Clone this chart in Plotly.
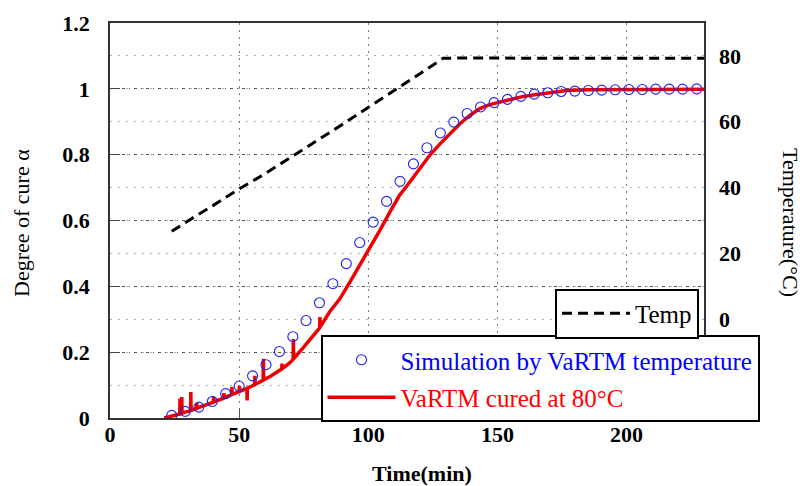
import plotly.graph_objects as go

# ---------------- data ----------------
sim_time = [23.9, 29.1, 34.4, 39.6, 44.8, 50.0, 55.2, 60.4, 65.6, 70.8,
            75.9, 81.1, 86.3, 91.5, 96.7, 101.9, 107.1, 112.3, 117.5, 122.7,
            127.9, 133.1, 138.3, 143.5, 148.7, 153.9, 159.1, 164.3, 169.5, 174.7,
            180.0, 185.2, 190.4, 195.6, 200.9, 206.1, 211.3, 216.5, 221.7, 227.2]
sim_cure = [0.008, 0.020, 0.033, 0.050, 0.074, 0.097, 0.128, 0.162, 0.202, 0.247,
            0.296, 0.350, 0.408, 0.469, 0.533, 0.595, 0.658, 0.719, 0.772, 0.821,
            0.866, 0.899, 0.925, 0.945, 0.958, 0.968, 0.977, 0.984, 0.988, 0.992,
            0.993, 0.995, 0.996, 0.997, 0.998, 0.998, 0.999, 0.999, 0.999, 1.000]

exp_time = [21.0, 24.0, 27.0, 27.1, 27.2, 27.7, 27.8, 27.9, 31.2, 31.3, 31.4,
            33.5, 33.6, 33.7, 35.0, 38.0, 40.0, 40.1, 40.2, 44.0, 44.1, 44.2,
            47.1, 47.2, 47.3, 50.0, 50.1, 50.2, 53.0, 53.1, 53.2, 56.0, 56.1, 56.2,
            59.3, 59.4, 59.5, 62.0, 65.8, 66.5, 66.6, 66.7, 69.7, 70.9, 71.0, 71.1,
            75.0, 78.1, 81.2, 81.3, 81.4, 85.0, 89.0, 92.9, 96.0, 100.6, 104.5,
            108.4, 112.0, 116.1, 120.0, 123.8, 127.7, 131.6, 135.5, 139.3, 143.2,
            147.0, 150.9, 155.0, 160.0, 163.8, 170.0, 176.8, 185.0, 200.0, 215.0, 230.0]
exp_cure = [0.000, 0.005, 0.012, 0.059, 0.013, 0.014, 0.064, 0.015, 0.022, 0.079, 0.023,
            0.029, 0.045, 0.030, 0.034, 0.042, 0.048, 0.065, 0.049, 0.060, 0.076, 0.061,
            0.071, 0.094, 0.072, 0.080, 0.098, 0.081, 0.090, 0.053, 0.091, 0.101, 0.128, 0.102,
            0.115, 0.180, 0.116, 0.126, 0.145, 0.149, 0.165, 0.150, 0.168, 0.178, 0.240, 0.180,
            0.215, 0.246, 0.274, 0.307, 0.277, 0.322, 0.362, 0.413, 0.455, 0.514, 0.570,
            0.626, 0.675, 0.717, 0.760, 0.798, 0.832, 0.862, 0.894, 0.919, 0.940,
            0.952, 0.960, 0.969, 0.977, 0.981, 0.988, 0.995, 0.997, 0.998, 0.999, 0.999]

temp_time = [23.9, 30.0, 40.0, 50.0, 60.0, 70.0, 80.0, 90.0, 100.0, 110.0, 120.0,
             129.0, 140.0, 160.0, 180.0, 200.0, 230.0]
temp_val = [26.7, 29.8, 34.6, 39.6, 44.2, 49.1, 54.2, 59.2, 64.3, 69.3, 74.6,
            79.3, 79.4, 79.3, 79.4, 79.3, 79.3]

x_ticks = [0, 50, 100, 150, 200]
y_ticks = [0, 0.2, 0.4, 0.6, 0.8, 1.0, 1.2]
y_ticktext = ["0", "0.2", "0.4", "0.6", "0.8", "1", "1.2"]
y2_ticks = [0, 20, 40, 60, 80]

name_sim = "Simulation by VaRTM temperature"
name_exp = "VaRTM cured at 80°C"
name_temp = "Temp"

# ---------------- figure ----------------
SERIF = "Liberation Serif"
OFF = 8                      # default page body margin
W, H = 806 - OFF, 486 - OFF
L, R, T, B = 102, 102, 15, 68
PW, PH = W - L - R, H - T - B


def px_x(xp):
    """page pixel x -> paper x"""
    return (xp - OFF - L) / PW


def px_y(yp):
    """page pixel y -> paper y"""
    return (H - B - (yp - OFF)) / PH


fig = go.Figure()

fig.add_trace(go.Scatter(
    x=exp_time, y=exp_cure, mode="lines",
    name=f'<span style="color:#ff0000">{name_exp}</span>',
    line=dict(color="#ee0000", width=3.5), legendrank=2, legendgroup="b",
))
fig.add_trace(go.Scatter(
    x=sim_time, y=sim_cure, mode="markers",
    name=f'<span style="color:#0000ff">{name_sim}</span>',
    marker=dict(symbol="circle-open", size=10, color="#2222ee", line=dict(width=1.1)),
    legendrank=1, legendgroup="a",
))
fig.add_trace(go.Scatter(
    x=temp_time, y=temp_val, mode="lines", name=name_temp, yaxis="y2",
    line=dict(color="black", width=3, dash="10px,6px"), legend="legend2",
))

tickfont = dict(family=SERIF, size=22, color="black", weight="bold")

fig.update_layout(
    width=W, height=H,
    margin=dict(l=L, r=R, t=T, b=B, autoexpand=False),
    paper_bgcolor="white", plot_bgcolor="white",
    font=dict(family=SERIF, color="black"),
    xaxis=dict(
        range=[0, 230], tickvals=x_ticks, ticktext=[str(v) for v in x_ticks],
        showline=True, linecolor="#333333", linewidth=1.5, mirror=True,
        ticks="inside", ticklen=9, tickcolor="#555555",
        showgrid=True, gridcolor="#777777", gridwidth=1, griddash="2px,5px",
        zeroline=False, tickfont=tickfont, ticklabelstandoff=-4,
    ),
    yaxis=dict(
        range=[0, 1.2], tickvals=y_ticks, ticktext=y_ticktext,
        showline=True, linecolor="#333333", linewidth=1.5, mirror=True,
        ticks="inside", ticklen=10, tickcolor="#444444",
        showgrid=True, gridcolor="#555555", gridwidth=1, griddash="3px,4px,1px,4px",
        minor=dict(dtick=0.1, showgrid=True, gridcolor="#b0b0b0", griddash="2px,6px", gridwidth=1),
        zeroline=False, tickfont=tickfont, ticklabelstandoff=14,
    ),
    yaxis2=dict(
        range=[-30, 90], tickvals=y2_ticks, ticktext=[str(v) for v in y2_ticks],
        overlaying="y", side="right", showline=False, showgrid=False, zeroline=False,
        ticks="", tickfont=tickfont, ticklabelstandoff=14,
    ),
    showlegend=True,
    legend=dict(
        x=px_x(320.5), y=px_y(335),
        xanchor="left", yanchor="top",
        bgcolor="white", bordercolor="black", borderwidth=2,
        font=dict(family=SERIF, size=25), itemwidth=68, tracegroupgap=2,
        traceorder="grouped",
    ),
    legend2=dict(
        x=px_x(555), y=px_y(288.5),
        xanchor="left", yanchor="top",
        bgcolor="white", bordercolor="black", borderwidth=2,
        font=dict(family=SERIF, size=25, color="black"), itemwidth=68,
    ),
    annotations=[
        dict(text="Degree of cure α", xref="paper", yref="paper",
             x=px_x(21), y=px_y(223), xanchor="center", yanchor="middle",
             textangle=-90, showarrow=False, font=dict(family=SERIF, size=22, color="black")),
        dict(text="Temperature(°C)", xref="paper", yref="paper",
             x=px_x(791), y=px_y(222), xanchor="center", yanchor="middle",
             textangle=90, showarrow=False, font=dict(family=SERIF, size=22, color="black")),
        dict(text="<b>Time(min)</b>", xref="paper", yref="paper",
             x=px_x(421.7), y=px_y(473), xanchor="center", yanchor="middle",
             showarrow=False, font=dict(family=SERIF, size=22, color="black")),
    ],
)

fig.write_html("out.html")
